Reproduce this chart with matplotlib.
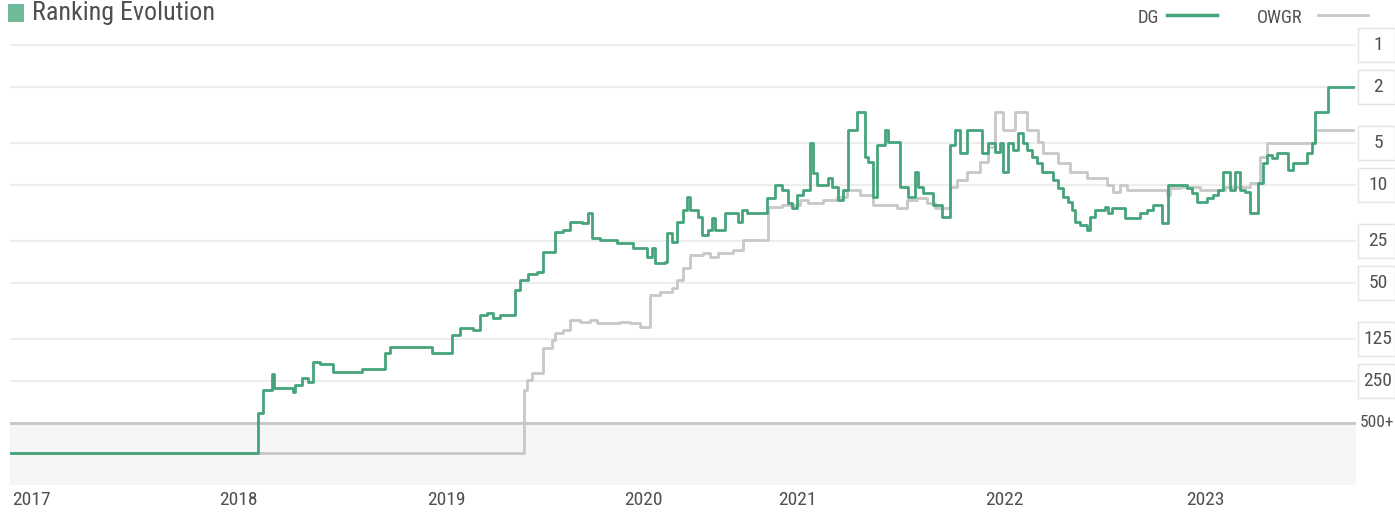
import matplotlib
matplotlib.use("Agg")
import matplotlib.pyplot as plt
from matplotlib.patches import Rectangle
from matplotlib.lines import Line2D
from matplotlib import font_manager

regular = {f.name for f in font_manager.fontManager.ttflist if f.weight in (400, 'normal', 'regular')}
fams = [n for n in ['Liberation Sans Narrow', 'DejaVu Sans Condensed', 'Open Sans Condensed',
                    'Roboto Condensed'] if n in regular]
plt.rcParams['font.family'] = fams + ['DejaVu Sans']
plt.rcParams['font.weight'] = 'normal'
CONDENSED = len(fams) > 0

# ---- data (x = event index, y = ranking; 820 = unranked "500+") ----
dg_x = [0, 49.6, 50.6, 52.4, 52.8, 56.6, 57, 58.4, 59.6, 60.6, 62, 64.6, 70.4, 75, 76, 84.4,
        88.4, 90, 92.6, 94, 95.4, 96.6, 98, 101, 102, 103.6, 105.4, 106.6, 109, 110.6, 112,
        114.4, 115.6, 116.4, 118, 121.4, 124.6, 127.4, 128.4, 129, 131, 131.4, 132.4, 133.4,
        134.6, 135.4, 136, 137.6, 138.4, 139.6, 140.4, 141, 143, 145.6, 146.4, 147.4, 151.4,
        153, 154.4, 155.6, 156.4, 157.4, 158.6, 160, 160.6, 161.4, 163.6, 164.4, 165.6, 166.6,
        167.6, 169.4, 171, 171.6, 172.6, 173.4, 175, 175.6, 178, 179.6, 181, 181.6, 182.6,
        184.6, 186.4, 188, 189, 190, 191.4, 194.4, 195.6, 197, 198, 198.6, 199.6, 200.6, 201.6,
        202.6, 203.4, 204.4, 205.4, 206.4, 208.6, 209.6, 210.6, 211.6, 212.4, 213, 214, 215.4,
        216, 217, 219, 219.6, 220.4, 223, 226, 227.4, 228.6, 230.4, 231.6, 235.4, 236.4, 237.4,
        239.4, 240.6, 241.6, 242.6, 244, 245, 246, 247, 248, 249.6, 250.6, 251.4, 252.4, 253.4,
        255.6, 256.6, 259.4, 260.4, 261, 263.6, 268.6]
dg_rank = [820, 424, 291, 224, 281, 301, 268, 239, 256, 184, 190, 216, 207, 158, 144, 158,
           117, 105, 108, 85, 82, 89, 85, 56, 48, 43, 42, 30, 21.6, 20.9, 18.4,
           18.7, 15.8, 23.9, 24.7, 26, 28.2, 32.7, 28.2, 36, 35.5, 22, 25.5, 18.4,
           15.1, 12.2, 15.1, 17, 22.7, 20.9, 17.2, 20.9, 15.8, 18.4, 15.1, 15.8, 12.4,
           10, 10.9, 13.4, 14.6, 11.8, 10.9, 5.0, 8.2, 10, 8.9, 10.3, 12.8, 10.9,
           4.05, 3.0, 6.3, 6.85, 12.2, 5.2, 4.05, 4.9, 10.3, 12.2, 8.1, 10.3, 11.4,
           13.9, 16.9, 5.2, 4.05, 5.9, 4.05, 5.9, 5.0, 5.8, 5.0, 8.1, 5.0, 5.6, 4.25,
           5.0, 5.6, 6.3, 7.0, 8.1, 9.2, 10.5, 12.2, 13.2, 15.1, 18.4, 19.3, 20.9,
           16.9, 15.1, 14.3, 15.8, 14.6, 17.2, 15.8, 15.1, 13.9, 18.7, 10.0, 10.5, 11.4, 13.2,
           12.4, 11.8, 10.9, 8.1, 10.9, 8.1, 10.9, 11.2, 15.8, 9.7, 7.0, 6.1, 6.4, 5.9,
           7.8, 7.0, 5.9, 5.0, 3.0, 2.0, 2.0]

owgr_x = [0, 102.8, 103.4, 104.4, 106.6, 108.4, 109, 110.6, 112, 114, 116, 117.4, 122, 124,
          126, 128, 130, 132.4, 133.4, 134.6, 136, 138.6, 140, 141.6, 144.6, 146.6, 151.6,
          154.4, 158, 159.6, 162.6, 165.4, 167.4, 170, 172.6, 177.4, 179.4, 181.4, 183.4,
          185, 188, 189.4, 191.4, 194, 195.6, 197, 198.6, 201, 203.4, 205.6, 206.6, 209.6,
          212, 215.4, 219.4, 220.6, 222, 223.4, 231.4, 232, 234, 238, 243, 248, 250, 251.4,
          261, 268.6]
owgr_rank = [820, 291, 247, 220, 146, 128, 114, 108, 92, 95, 92, 97, 95, 97,
             103, 61, 58, 54, 48, 39, 31.6, 30.6, 32.7, 30.6, 29.1, 24.7, 14.3,
             13.9, 12.8, 13.4, 12.8, 12.2, 10.9, 11.8, 13.9, 14.6, 12.8, 12.4, 13.4,
             14.6, 10.3, 9.2, 8.1, 6.85, 5.35, 3.0, 4.05, 3.0, 4.05, 4.9, 5.9, 7.0,
             8.1, 8.9, 10.0, 11.2, 10.0, 10.9, 11.8, 10.5, 10.3, 10.9, 10.3, 9.7, 6.3, 5.0,
             4.05, 4.05]

rank_ticks = [1, 2, 5, 10, 25, 50, 125, 250, 500]
rank_labels = ['1', '2', '5', '10', '25', '50', '125', '250', '500+']
year_pos = [4.2, 45.6, 87.2, 126.6, 157.4, 198.8, 239.0]
year_labels = ['2017', '2018', '2019', '2020', '2021', '2022', '2023']

GREEN = '#45a47b'
GREEN_SQ = '#6dbb98'
GREY = '#c8c8c8'
TXT = '#505050'

fig = plt.figure(figsize=(13.95, 5.14), dpi=100)
ax = fig.add_axes([10 / 1395, 1 - 485 / 514, 1346 / 1395, 455 / 514])
ax.set_yscale('log')
ax.set_ylim(1390, 0.78)
ax.set_xlim(0, 269.2)

for s in ax.spines.values():
    s.set_visible(False)
ax.set_yticks([])
ax.minorticks_off()
ax.tick_params(axis='y', which='both', left=False, labelleft=False)

# grid lines
for r in rank_ticks[:-1]:
    ax.axhline(r, color='#ededed', lw=1.5, zorder=0)
ax.axhspan(500, 1390, color='#f6f6f6', zorder=0, lw=0)
ax.axhline(500, color='#c6c6c6', lw=2.0, zorder=1)

ax.plot(owgr_x, owgr_rank, drawstyle='steps-post', color=GREY, lw=2.0, zorder=2)
ax.plot(dg_x, dg_rank, drawstyle='steps-post', color=GREEN, lw=2.0, zorder=3)

fs_small = 14 if CONDENSED else 12
# x labels
ax.set_xticks(year_pos)
ax.set_xticklabels(year_labels, fontsize=fs_small, color=TXT, fontweight='normal')
ax.tick_params(axis='x', length=0, pad=4)

# right-side rank boxes
f = 1.323
for r, lab in zip(rank_ticks, rank_labels):
    tr = ax.get_yaxis_transform()
    if lab != '500+':
        ax.add_patch(Rectangle((1.0015, r / f), 0.0275, r * f - r / f, transform=tr,
                               fc='white', ec='#e4e4e4', lw=1.0, clip_on=False, zorder=4))
        ax.text(1.0163, r, lab, transform=tr, ha='center', va='center',
                fontsize=fs_small, color=TXT, clip_on=False, zorder=5, fontweight='normal')
    else:
        ax.text(1.0028, r, lab, transform=tr, ha='left', va='center',
                fontsize=fs_small - 1.5, color=TXT, clip_on=False, zorder=5, fontweight='normal')

# title
fig.patches.append(Rectangle((8 / 1395, 1 - 22 / 514), 16 / 1395, 18 / 514,
                             transform=fig.transFigure, fc=GREEN_SQ, ec='none'))
fig.text(32 / 1395, 1 - 13 / 514, 'Ranking Evolution', fontsize=18.7 if CONDENSED else 16,
         color=TXT, ha='left', va='center', fontweight='normal')

# legend
fig.text(1148 / 1395, 1 - 18 / 514, 'DG', fontsize=fs_small - 0.8, color=TXT, ha='center',
         va='center', fontweight='normal')
fig.lines.append(Line2D([1167 / 1395, 1217 / 1395], [1 - 15 / 514] * 2, transform=fig.transFigure,
                        color=GREEN, lw=2.5))
fig.text(1280 / 1395, 1 - 18 / 514, 'OWGR', fontsize=fs_small - 0.8, color=TXT, ha='center',
         va='center', fontweight='normal')
fig.lines.append(Line2D([1318 / 1395, 1368 / 1395], [1 - 15 / 514] * 2, transform=fig.transFigure,
                        color=GREY, lw=2.0))

fig.savefig('out.png', dpi=100)
